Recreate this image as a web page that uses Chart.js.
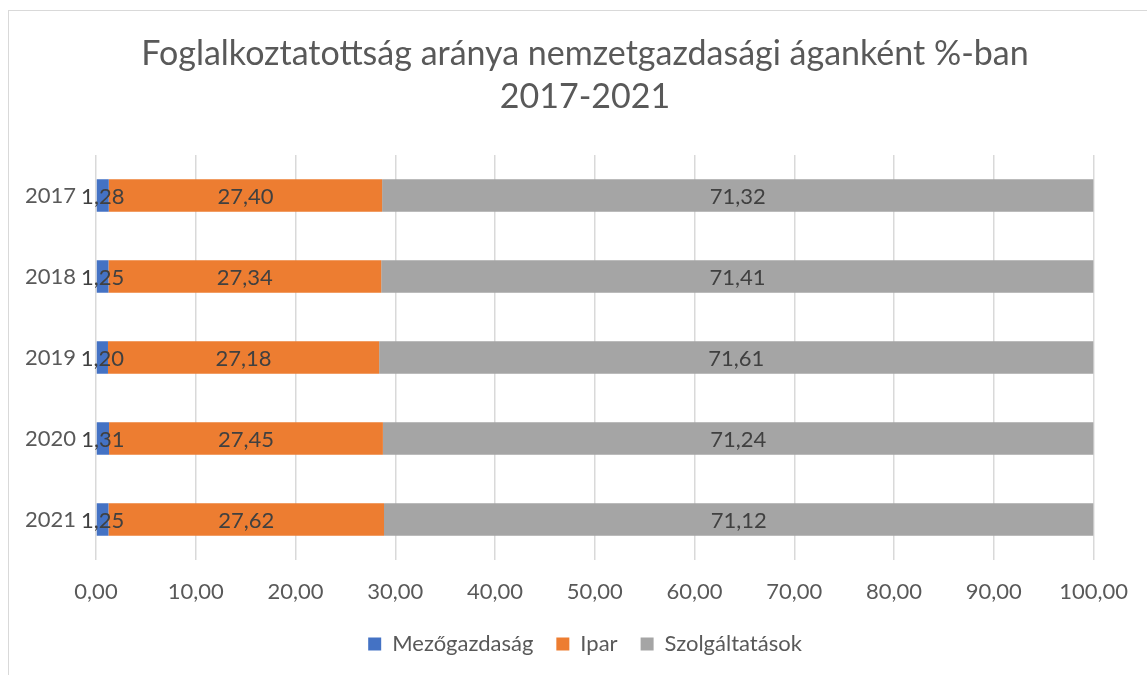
<!DOCTYPE html>
<html>
<head>
<meta charset="utf-8">
<script src="https://cdn.jsdelivr.net/npm/chart.js@4"></script>
<style>
  html, body { margin: 0; padding: 0; background: #fff; }
  #wrap { position: relative; width: 1147px; height: 675px; overflow: hidden; }
  #frame { position: absolute; left: 8px; top: 10px; width: 1200px; height: 700px; border: 1.5px solid #d9d9d9; box-sizing: border-box; }
  canvas { position: absolute; left: 0; top: 0; }
</style>
</head>
<body>
<div id="wrap">
  <div id="frame"></div>
  <canvas id="chart" width="1147" height="675"></canvas>
</div>
<script>
const years = ['2017', '2018', '2019', '2020', '2021']
const agriculture = [1.28, 1.25, 1.20, 1.31, 1.25]
const industry = [27.40, 27.34, 27.18, 27.45, 27.62]
const services = [71.32, 71.41, 71.61, 71.24, 71.12]
const seriesNames = ['Mezőgazdaság', 'Ipar', 'Szolgáltatások']
const seriesColors = ['#4472C4', '#ED7D31', '#A5A5A5']

const FONT = 'Lato, "Liberation Sans", sans-serif'
const fmt = v => v.toFixed(2).replace('.', ',')

// simple centered value labels, Chart.js has no datalabels built in
const barLabels = {
  id: 'barLabels',
  afterDatasetsDraw(chart) {
    const ctx = chart.ctx
    ctx.save()
    ctx.font = '22px ' + FONT
    ctx.fillStyle = '#404040'
    ctx.textAlign = 'center'
    ctx.textBaseline = 'middle'
    chart.data.datasets.forEach((ds, i) => {
      chart.getDatasetMeta(i).data.forEach((bar, j) => {
        const { x, y, base } = bar.getProps(['x', 'y', 'base'], true)
        ctx.fillText(fmt(ds.data[j]), (x + base) / 2, y + 1)
      })
    })
    ctx.restore()
  }
}

const data = {
  labels: years,
  datasets: [agriculture, industry, services].map((vals, i) => ({
    label: seriesNames[i],
    data: vals,
    backgroundColor: seriesColors[i],
    borderWidth: 0,
    categoryPercentage: 1,
    barPercentage: 0.4
  }))
}

new Chart(document.getElementById('chart'), {
  type: 'bar',
  data,
  plugins: [barLabels],
  options: {
    indexAxis: 'y',
    responsive: false,
    animation: false,
    layout: { autoPadding: false, padding: { left: 73, right: 50, top: 0, bottom: 10 } },
    plugins: {
      title: {
        display: true,
        text: ['Foglalkoztatottság aránya nemzetgazdasági áganként %-ban', '2017-2021'],
        color: '#595959',
        font: { family: FONT, size: 34, weight: 'normal', lineHeight: 1.28 },
        padding: { top: 32, bottom: 36 }
      },
      legend: {
        position: 'bottom',
        labels: {
          color: '#595959',
          font: { family: FONT, size: 22 },
          boxWidth: 13,
          boxHeight: 13,
          padding: 23
        }
      },
      tooltip: { enabled: false }
    },
    scales: {
      x: {
        stacked: true,
        min: 0,
        max: 100,
        ticks: {
          stepSize: 10,
          color: '#595959',
          font: { family: FONT, size: 22 },
          padding: 19,
          callback: v => fmt(v)
        },
        grid: { color: '#d9d9d9', lineWidth: 1.5, drawTicks: false },
        border: { display: false },
        afterFit: s => { s.height = 50 }
      },
      y: {
        stacked: true,
        ticks: {
          color: '#595959',
          font: { family: FONT, size: 22 },
          mirror: true,
          padding: -71
        },
        grid: { display: false, drawTicks: false },
        border: { display: false },
        afterFit: s => { s.width = 23 }
      }
    }
  }
})
</script>
</body>
</html>
